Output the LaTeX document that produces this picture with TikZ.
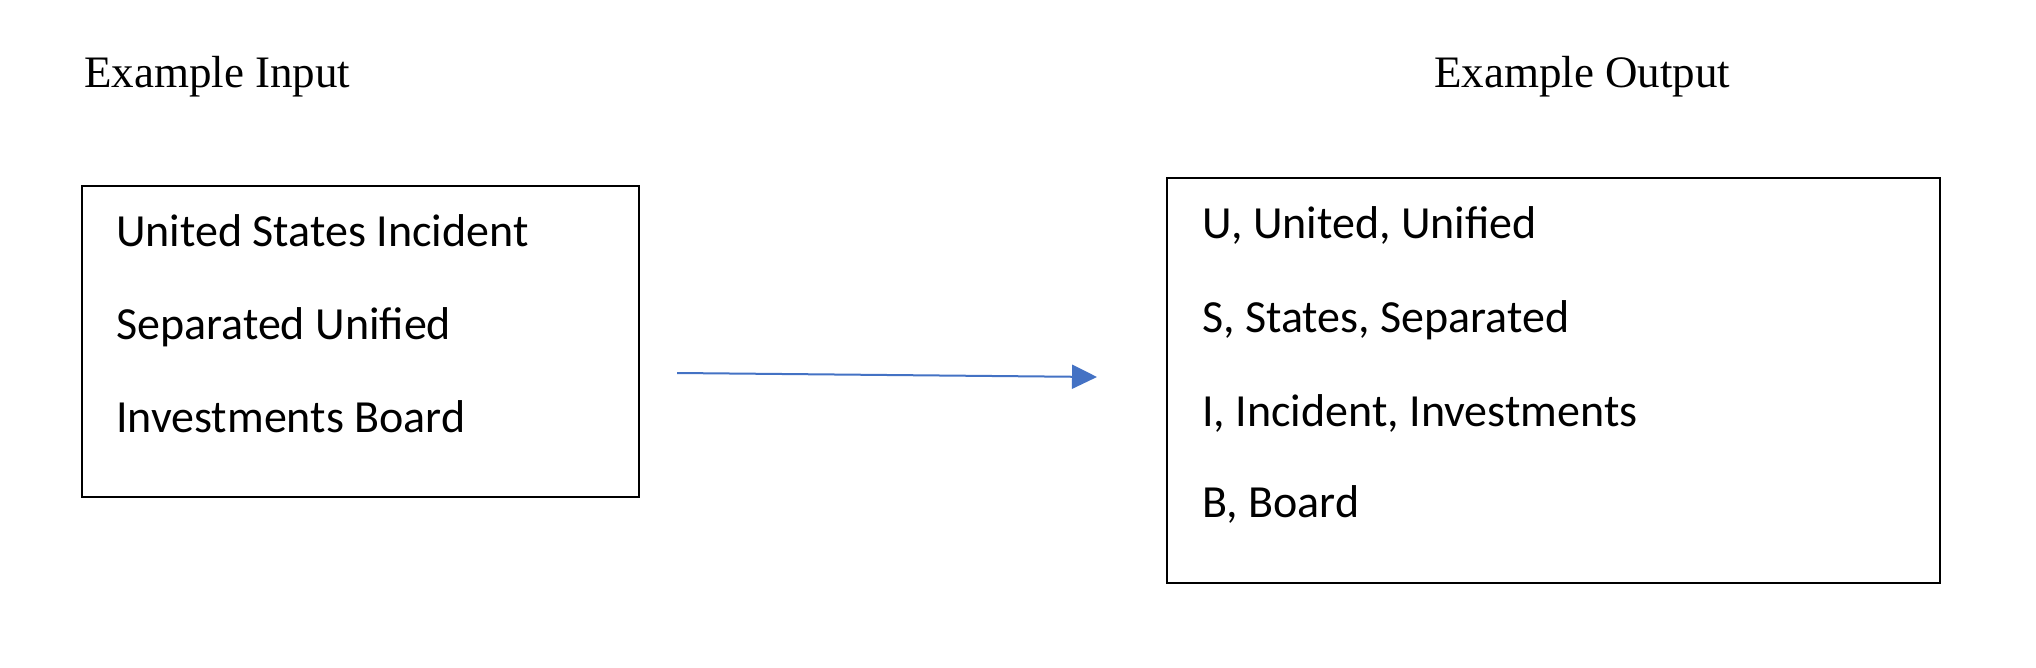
\documentclass[tikz,border=0pt]{standalone}
\usepackage{fontspec}
\setmainfont{Liberation Serif}
\newfontfamily\calibri{Carlito}
\usetikzlibrary{arrows.meta}
\definecolor{arrowblue}{HTML}{4472C4}

\tikzset{
  title/.style={anchor=base west, inner sep=0pt, font=\fontsize{45}{54}\selectfont},
  entry/.style={anchor=base west, inner sep=0pt, font=\calibri\fontsize{46}{55}\selectfont},
  frame/.style={draw, line width=2.5pt}
}

\begin{document}
\begin{tikzpicture}[x=1pt, y=-1pt]
\useasboundingbox (0,0) rectangle (2036,668);

\node[title] (intitle) at (84,88) {Example Input};
\node[title] (outtitle) at (1434,88) {Example Output};

\draw[frame] (82,186) rectangle (639,497);
\node[entry] (in1) at (116,247) {United States Incident};
\node[entry] (in2) at (116,339) {Separated Unified};
\node[entry] (in3) at (116,432) {Investments Board};

\coordinate (arrstart) at (677,373);
\coordinate (arrend) at (1097,377);
\draw [line width=2pt, arrowblue, -{Triangle[length=25pt, width=24pt]}] (arrstart) -- (arrend);

\draw[frame] (1167,178) rectangle (1940,583);
\node[entry] (out1) at (1202,239) {U, United, Unified};
\node[entry] (out2) at (1202,332) {S, States, Separated};
\node[entry] (out3) at (1202,426) {I, Incident, Investments};
\node[entry] (out4) at (1202,517) {B, Board};

\end{tikzpicture}
\end{document}
